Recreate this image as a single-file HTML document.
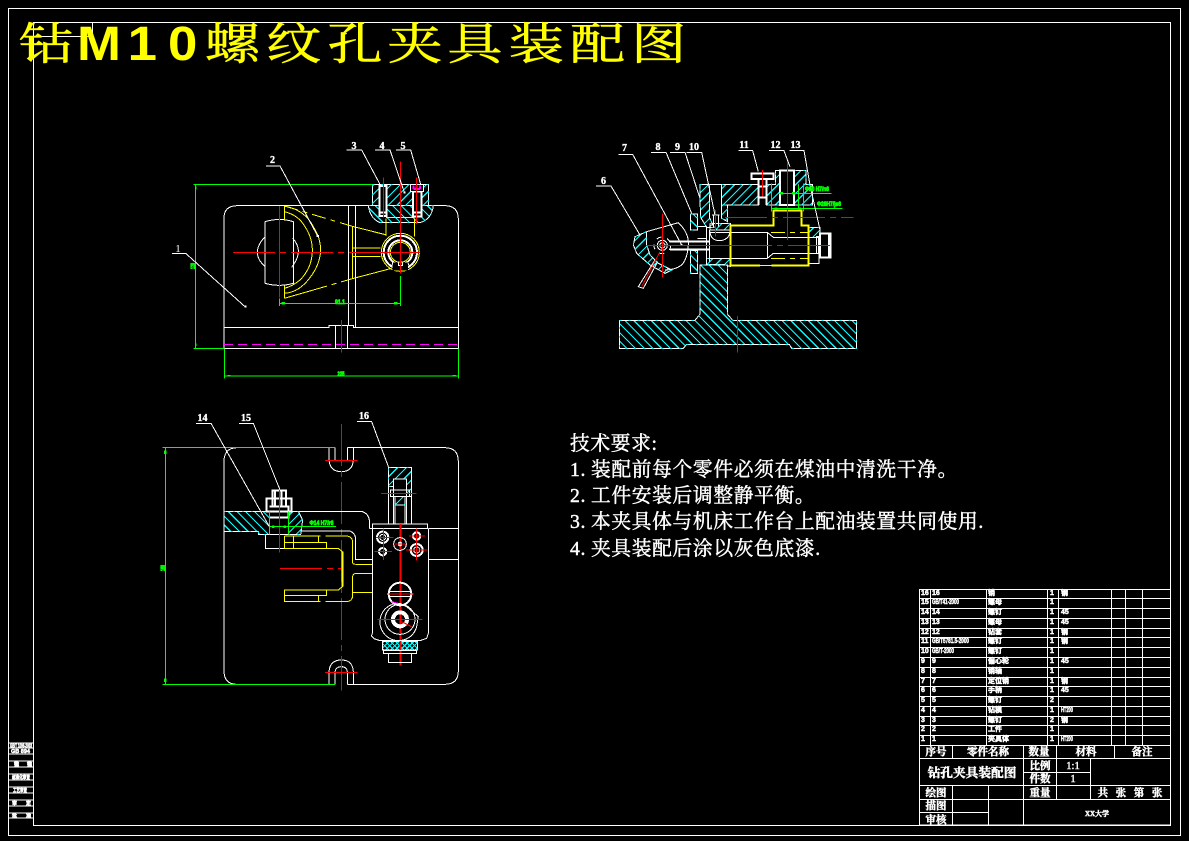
<!DOCTYPE html>
<html><head><meta charset="utf-8"><style>
html,body{margin:0;padding:0;background:#000;width:1189px;height:841px;overflow:hidden}
svg{display:block}
svg *{vector-effect:non-scaling-stroke}
.w{fill:none;stroke:#fff;stroke-width:1}
.b{fill:none;stroke:#fff;stroke-width:2}
.y{fill:none;stroke:#ff0;stroke-width:1}
.y2{fill:none;stroke:#ff0;stroke-width:2}
.r{fill:none;stroke:#f00;stroke-width:1}
.g{fill:none;stroke:#0f0;stroke-width:1}
.m{fill:none;stroke:#f0f;stroke-width:1}
.rd{fill:none;stroke:#f00;stroke-width:1;stroke-dasharray:42 5 6 5}
.yd{fill:none;stroke:#ff0;stroke-width:1;stroke-dasharray:14 5 5 5}
.cd{fill:none;stroke:#0ff;stroke-width:1;stroke-dasharray:2 7}
.hl{stroke:#0ff;stroke-dasharray:3.5 15;vector-effect:none}
.hc{stroke:#0ff;stroke-dasharray:3.5 7;vector-effect:none}
.gf{fill:#0f0;stroke:none}
text{font-family:"Liberation Sans","Noto Sans CJK SC",sans-serif}
.lb{fill:#fff;stroke:#fff;stroke-width:.35;font-size:10px;font-weight:bold;text-anchor:middle;font-family:"Liberation Serif","Noto Serif CJK SC",serif}
.gt{fill:#0f0;stroke:#0f0;stroke-width:.8;font-size:6px;font-weight:bold;text-anchor:middle}
.t{fill:#fff;stroke:#fff;stroke-width:.45;font-size:10.5px;font-weight:bold;text-anchor:middle;font-family:"Liberation Serif","Noto Serif CJK SC",serif}
.s{fill:#fff;stroke:#fff;stroke-width:.5;font-size:7px;font-weight:bold;font-family:"Liberation Sans","Noto Sans CJK SC",sans-serif}
.tech{fill:#fff;stroke:#fff;stroke-width:.45;font-size:19.7px;letter-spacing:.7px;font-family:"Liberation Serif","Noto Serif CJK SC",serif}
</style></head><body>
<svg width="1189" height="841" viewBox="0 0 1189 841" xmlns="http://www.w3.org/2000/svg" shape-rendering="crispEdges">
<rect width="1189" height="841" fill="#000"/>

<!-- frames -->
<rect x="8.5" y="8.5" width="1172" height="827" class="w"/>
<rect x="33.5" y="22.5" width="1137" height="803" class="w"/>
<rect x="33.5" y="22.5" width="59" height="14" class="w"/>

<!-- title -->
<g fill="#ff0" stroke="#ff0" stroke-width=".7">
<text transform="scale(1.25,1)" y="59" x="15 164 213 262 310 358 407 456 505" style="font-family:'Noto Serif CJK SC',serif;font-size:44px">钻螺纹孔夹具装配图</text>
<text transform="scale(1.1,1)" y="60" x="70 116 152.7" style="font-family:'Liberation Sans',sans-serif;font-size:48px;font-weight:bold;stroke-width:0">M10</text>
</g>

<!-- TOP-LEFT VIEW (coords in 3x crop space) -->
<g transform="translate(150,130) scale(.33333)">
<clipPath id="c1a"><path id="a1" d="M667 163H836V227H667Z"/></clipPath>
<clipPath id="c1b"><path id="b1" d="M655 227H850Q845 268 810 278H690Q660 265 655 227Z"/></clipPath>
<g clip-path="url(#c1a)"><line class="hl" x1="635" y1="220" x2="865" y2="220" stroke-width="230" transform="rotate(45 750 220)"/></g>
<g clip-path="url(#c1b)"><line class="hl" x1="635" y1="220" x2="865" y2="220" stroke-width="230" transform="rotate(-45 750 220)"/></g>
<path class="w" d="M222 265Q222 227 262 227H885Q925 227 925 268V655H222V265"/>
<use href="#a1" class="w"/><use href="#b1" class="w"/><use href="#a1" class="cd"/><use href="#b1" class="cd"/>
<path class="w" d="M224 592H537V586H610V592H925M595 227V586M616 227V592M556 586V655M592 586V655"/>
<path class="m" style="stroke-dasharray:9 5" d="M222 643H925"/>
<path class="r" d="M574 570V668"/>
<path class="w" d="M345 275V460M430 275V460M345 275Q388 262 430 275M345 460Q388 472 430 460M345 320Q322 345 322 367T345 410M428 325Q447 345 445 367T425 412"/>
<!-- yellow fork -->
<path class="y" d="M403 228V270M403 465V505M403 228Q465 240 490 290Q512 325 512 360Q510 410 470 455Q440 488 403 490M403 245Q445 255 465 290Q488 325 487 365Q485 415 450 450Q425 470 403 475"/>
<path class="yd" d="M403 228L607 289"/>
<path class="y" d="M607 289L710 315M403 505L490 480"/>
<path class="yd" d="M490 480L607 446"/>
<path class="y" d="M607 289V446M607 354H692M607 380H692M708 265V318M794 265V320M708 262H794M607 446L725 415"/>
<circle cx="751" cy="367" r="57" class="y"/>
<circle cx="751" cy="367" r="50" class="b"/>
<circle cx="751" cy="367" r="36" class="b"/>
<circle cx="751" cy="367" r="30" class="y"/>
<rect x="728" y="398" width="46" height="24" style="fill:#000"/>
<path class="w" d="M728 398L725 412M774 400L780 412M745 398V406H757V398"/>
<rect x="688" y="168" width="22" height="90" class="b" style="fill:#000"/>
<rect x="789" y="185" width="26" height="75" class="b" style="fill:#000"/>
<path class="b" d="M688 248H710M789 248H815"/>
<rect x="781" y="163" width="39" height="22" class="w" style="fill:#000"/>
<path class="m" style="stroke-width:2" d="M790 177V166M800 177V166M810 177V166M790 177H810"/>
<path class="r" d="M751 95V430M700 143V262M800 143V282"/>
<path class="rd" d="M249 367H700"/>
<path class="r" d="M700 367H810M388 228V502"/>
<!-- dims -->
<path class="g" d="M130 163H667M130 655H222M137 163V655M751 438V528M388 505V528M388 520H751M224 655V745M925 655V745M224 738H925"/>
<rect x="395" y="516" width="10" height="8" class="gf"/><rect x="732" y="516" width="10" height="8" class="gf"/>
<rect x="232" y="735" width="10" height="4" class="gf"/><rect x="908" y="735" width="10" height="4" class="gf"/>
<rect x="135" y="170" width="4" height="8" class="gf"/><rect x="135" y="640" width="4" height="8" class="gf"/>
<!-- leaders -->
<path class="w" d="M66 370H107L285 530M348 108H390L503 318M590 60H635L690 163M675 60H720L763 187M738 60H782L812 163"/>
<rect x="283" y="527" width="7" height="6" fill="#fff"/><rect x="500" y="315" width="7" height="6" fill="#fff"/><rect x="760" y="185" width="7" height="6" fill="#fff"/>
</g>
<text class="lb" x="178" y="252" style="font-size:11px;font-weight:normal;stroke-width:0">1</text>
<text class="lb" x="272.5" y="163">2</text><text class="lb" x="354" y="149">3</text><text class="lb" x="382" y="149">4</text><text class="lb" x="403" y="149">5</text>
<text class="gt" x="341" y="376" textLength="7" lengthAdjust="spacingAndGlyphs">225</text><text class="gt" x="340" y="304" textLength="10" lengthAdjust="spacingAndGlyphs">91.1</text>
<text class="gt" transform="translate(195,266) rotate(-90)" textLength="6" lengthAdjust="spacingAndGlyphs">120</text>

<!-- TOP-RIGHT VIEW -->
<g transform="translate(590,130) scale(.33333)">
<clipPath id="c2a"><path id="a2" d="M330 163H358V262L372 292H350L332 262V240L330 225ZM395 163H505V225H395ZM395 225H413V275L395 265ZM350 385H422V410L400 403H350ZM360 280H422V300H360ZM130 345L135 320L170 305V345L180 375L205 400L245 420L225 430L180 405L140 370ZM530 163H556V122H570V225H530ZM612 122H648V163H668V225H612ZM656 292H690V320H680V322H656Z"/></clipPath>
<clipPath id="c2b"><path id="b2" d="M88 571H315L330 552V405H412V552L428 571H800V655H605L598 643H290L280 655H88ZM302 252H322V300H302ZM302 362H322V431H302Z"/></clipPath>
<g clip-path="url(#c2a)"><line class="hl" x1="-1" y1="388" x2="889" y2="388" stroke-width="890" transform="rotate(45 444 388)"/></g>
<g clip-path="url(#c2b)"><line class="hl" x1="-1" y1="388" x2="889" y2="388" stroke-width="890" transform="rotate(-45 444 388)"/></g>
<use href="#a2" class="w"/><use href="#b2" class="w"/><use href="#a2" class="cd"/><use href="#b2" class="cd"/>
<path class="r" d="M442 558V668"/>
<path class="w" d="M358 163H395V262"/>
<path class="w" d="M360 300H420M360 305Q362 332 390 332Q415 330 420 307M322 290H350V325H322M322 358H350V395M350 300V395M358 300V395"/>
<path class="w" d="M370 255V290M385 255V290M366 255H388"/>
<!-- lever hub -->
<path class="w" d="M170 305L265 278Q298 310 295 345Q293 385 275 405Q255 420 225 420"/>
<circle cx="217" cy="346" r="15" class="w"/><circle cx="217" cy="346" r="8" class="w"/>
<circle cx="217" cy="346" r="25" class="w" style="stroke-dasharray:5 6"/>
<path class="w" d="M195 390L145 470L160 475L203 395"/>
<path class="r" d="M210 365L155 470"/>
<path class="b" d="M240 335H358M240 358H358"/>
<rect x="272" y="342" width="6" height="6" fill="#fff"/>
<!-- bore and yellow -->
<path class="w" d="M358 307H532L550 322H685V370H550L532 385H358ZM532 307V385M680 322V370"/>
<path class="y2" d="M422 287H550V241H634V287H656V407H545M510 407H422V287"/>
<path class="yd" d="M510 407H545"/>
<path class="yd" d="M543 307H656M543 385H656"/>
<path class="w" d="M656 322H687V400H656"/>
<path class="b" d="M690 310H722V382H690ZM717 310V382"/>
<!-- upper right -->
<path class="w" d="M625 163V225"/>
<rect x="570" y="122" width="42" height="103" class="b" style="fill:#000"/>
<path class="b" d="M485 130H550V147H485ZM505 147V225M530 147V225M505 170H530M505 203H530"/>
<!-- red -->
<path class="r" d="M517 120V200M592 95V330M217 250V442M377 240V320"/>
<path class="rd" d="M405 262H790"/>
<path class="r" d="M170 346H420"/>
<path class="rd" d="M420 346H735"/>
<!-- green -->
<path class="g" d="M545 160V245M640 160V245M625 165V235M562 190H725M545 235H758"/>
<rect x="570" y="186" width="9" height="8" class="gf"/><rect x="606" y="186" width="9" height="8" class="gf"/>
<rect x="553" y="232" width="10" height="8" class="gf"/><rect x="624" y="232" width="10" height="8" class="gf"/>
<!-- leaders -->
<path class="w" d="M18 168H63L150 315M85 73H128L275 345M183 67H228L305 250M240 67H285L330 205M290 67H335L375 255M445 62H488L505 125M537 62H582L600 110M598 62H642L660 165L690 300"/>
</g>
<text class="lb" x="603.5" y="184">6</text><text class="lb" x="624.5" y="151">7</text><text class="lb" x="658" y="150">8</text><text class="lb" x="677.5" y="150">9</text><text class="lb" x="694" y="150">10</text><text class="lb" x="744" y="148">11</text><text class="lb" x="775.5" y="148">12</text><text class="lb" x="795.5" y="148">13</text>
<text class="gt" x="817" y="191" textLength="24" lengthAdjust="spacingAndGlyphs">Φ20 H7/n6</text><text class="gt" x="829" y="206" textLength="24" lengthAdjust="spacingAndGlyphs">Φ28H7/js6</text>

<!-- BOTTOM-LEFT VIEW -->
<g transform="translate(150,400) scale(.33333)">
<clipPath id="c3a"><path id="a3" d="M415 334H445L458 360L452 404H415ZM715 203H785V290H770V237H730V260H715ZM735 290H765V315H735Z"/></clipPath>
<clipPath id="c3b"><path id="b3" d="M222 334H358V404H325V395H222Z"/></clipPath>
<clipPath id="c3c"><path id="c3" d="M697 725H803V750H697Z"/></clipPath>
<g clip-path="url(#c3a)"><line class="hl" x1="388" y1="303" x2="812" y2="303" stroke-width="424" transform="rotate(45 600 303)"/></g>
<g clip-path="url(#c3b)"><line class="hl" x1="218" y1="369" x2="362" y2="369" stroke-width="144" transform="rotate(-45 290 369)"/></g>
<g clip-path="url(#c3c)"><line class="hc" x1="695" y1="737" x2="805" y2="737" stroke-width="110" transform="rotate(45 750 737)"/><line class="hc" x1="695" y1="737" x2="805" y2="737" stroke-width="110" transform="rotate(-45 750 737)"/></g>
<use href="#a3" class="w"/><use href="#b3" class="w"/><use href="#c3" class="w"/><use href="#a3" class="cd"/><use href="#b3" class="cd"/>
<path class="w" d="M222 185Q222 143 262 143H537M592 143H885Q925 143 925 185V812Q925 853 885 853H592M537 853H260Q222 853 222 812V185"/>
<path class="w" d="M537 143V180Q540 215 574 215Q608 215 610 180V143M555 143V180M592 143V180"/>
<path class="w" d="M537 853V815Q540 780 574 780Q608 780 610 815V853M555 853V815Q558 800 574 800Q590 800 592 815V853"/>
<path class="rd" d="M574 72V872"/>
<path class="r" d="M525 181H623M525 817H623"/>
<!-- green -->
<path class="g" d="M37 143H555M37 853H555M46 143V853"/>
<rect x="42" y="152" width="8" height="10" class="gf"/><rect x="42" y="836" width="8" height="10" class="gf"/>
<path class="w" d="M358 352H415V404H358ZM445 334H635Q655 340 658 360V385M452 393H600Q617 400 617 420V478H667M346 404V445H402"/>
<path class="b" d="M368 272H408V320H368ZM350 295H425V335H350ZM358 320H415V352H358M375 272V320M395 272V320"/>
<path class="r" d="M388 258V458"/>
<path class="g" d="M358 335V404M415 335V404M358 380H558"/>
<rect x="366" y="376" width="8" height="8" class="gf"/><rect x="400" y="376" width="8" height="8" class="gf"/>
<!-- yellow fork -->
<path class="y" d="M403 408V445H565L577 455V560L565 570H403V605H470M403 427H530V445M430 408V445M505 408V427M403 587H530V570M505 587V605M530 605H590Q608 603 608 585V530Q608 520 620 520H667M608 577H667M530 408H590Q608 410 608 428V488Q608 493 620 493H667M403 408H470"/>
<path class="y2" d="M577 455V560"/>
<path class="yd" d="M470 408H530M470 605H530"/>
<path class="rd" d="M390 505H575"/>
<!-- clamp block -->
<path class="w" d="M667 372H833V385H667ZM658 385H667M835 385H925M835 478H925"/>
<path class="w" d="M667 385V700L664 708L672 716L690 722H810L830 715L835 700V385"/>
<path class="w" d="M715 240V372M730 237V372M770 237V372M785 203V372M735 315V372M765 315V372M730 237H770V290H730ZM722 270H778V290H722Z"/>
<path class="r" d="M693 280H800"/>
<path class="r" d="M751 372V797" style="stroke-width:2"/>
<!-- circles -->
<circle cx="698" cy="412" r="17" class="b"/><circle cx="698" cy="412" r="9" class="w"/>
<circle cx="750" cy="432" r="19" class="w"/><circle cx="750" cy="432" r="7" fill="#fff"/>
<circle cx="800" cy="408" r="11" class="b"/>
<circle cx="698" cy="455" r="11" class="b"/>
<circle cx="800" cy="450" r="18" class="b"/><circle cx="800" cy="450" r="9" class="w"/>
<circle cx="750" cy="582" r="34" class="b"/>
<path class="w" d="M716 575H784M716 590H784"/>
<path class="w" d="M750 610A56 56 0 1 0 800 680L805 650L770 620Z"/>
<circle cx="750" cy="658" r="45" class="w"/>
<circle cx="750" cy="658" r="21" class="b" style="stroke-width:4"/>
<path class="m" d="M725 605L745 610"/>
<path class="r" d="M678 412H730M674 455H726M730 432H770M777 408H825M768 450H832M700 385V480M800 385V482M682 658H818M715 582H792M755 665L785 680"/>
<path class="w" d="M700 752H800V760H700ZM715 760V787H785V760"/>
<!-- leaders -->
<path class="w" d="M138 70H183L358 380M267 70H310L390 270M621 65H665L717 205"/>
</g>
<text class="lb" x="202.5" y="421">14</text><text class="lb" x="246" y="421">15</text><text class="lb" x="364" y="419">16</text>
<text class="gt" x="321.5" y="525" textLength="24" lengthAdjust="spacingAndGlyphs">Φ14 H7/r6</text>
<text class="gt" transform="translate(165,568) rotate(-90)" textLength="6" lengthAdjust="spacingAndGlyphs">160</text>

<!-- TECH REQUIREMENTS -->
<text class="tech" y="450" x="570">技术要求:</text>
<text class="tech" y="476"><tspan x="570">1.</tspan><tspan x="591">装配前每个零件必须在煤油中清洗干净。</tspan></text>
<text class="tech" y="502"><tspan x="570">2.</tspan><tspan x="591">工件安装后调整静平衡。</tspan></text>
<text class="tech" y="528"><tspan x="570">3.</tspan><tspan x="591">本夹具体与机床工作台上配油装置共同使用.</tspan></text>
<text class="tech" y="555"><tspan x="570">4.</tspan><tspan x="591">夹具装配后涂以灰色底漆.</tspan></text>

<!-- TITLE BLOCK -->
<g transform="translate(910,585) scale(.33333)">
<path class="w" d="M28 13H782V720H28ZM28 41H782M28 70H782M28 100H782M28 130H782M28 158H782M28 188H782M28 217H782M28 247H782M28 277H782M28 305H782M28 335H782M28 364H782M28 394H782M28 422H782M28 452H782M28 482H782M28 520H782M28 602H782M28 643H782M28 683H236M340 562H541"/>
<path class="w" d="M62 13V482M230 13V482M412 13V482M445 13V482M605 13V482M647 13V482M698 13V482"/>
<path class="w" d="M128 482V520M340 482V720M440 482V643M613 482V520M541 520V643M128 602V720M236 602V720"/>
</g>
<g class="s">
<text x="921" y="595">16</text><text x="932" y="595">16</text><text x="988" y="595">销</text><text x="1050" y="595">1</text><text x="1061" y="595">钢</text>
<text x="921" y="604">15</text><text x="932" y="604" textLength="27" lengthAdjust="spacingAndGlyphs">GB/T41-2000</text><text x="988" y="604">螺母</text><text x="1050" y="604">1</text>
<text x="921" y="614">14</text><text x="932" y="614">14</text><text x="988" y="614">螺钉</text><text x="1050" y="614">1</text><text x="1061" y="614">45</text>
<text x="921" y="624">13</text><text x="932" y="624">13</text><text x="988" y="624">螺母</text><text x="1050" y="624">1</text><text x="1061" y="624">45</text>
<text x="921" y="634">12</text><text x="932" y="634">12</text><text x="988" y="634">钻套</text><text x="1050" y="634">1</text><text x="1061" y="634">钢</text>
<text x="921" y="643">11</text><text x="932" y="643" textLength="37" lengthAdjust="spacingAndGlyphs">GB/T5781.5-2000</text><text x="988" y="643">螺钉</text><text x="1050" y="643">1</text><text x="1061" y="643">钢</text>
<text x="921" y="653">10</text><text x="932" y="653" textLength="22" lengthAdjust="spacingAndGlyphs">GB/T-2000</text><text x="988" y="653">螺钉</text><text x="1050" y="653">1</text>
<text x="921" y="663">9</text><text x="932" y="663">9</text><text x="988" y="663">偏心轮</text><text x="1050" y="663">1</text><text x="1061" y="663">45</text>
<text x="921" y="673">8</text><text x="932" y="673">8</text><text x="988" y="673">销轴</text><text x="1050" y="673">1</text>
<text x="921" y="683">7</text><text x="932" y="683">7</text><text x="988" y="683">定位销</text><text x="1050" y="683">1</text><text x="1061" y="683">钢</text>
<text x="921" y="692">6</text><text x="932" y="692">6</text><text x="988" y="692">手柄</text><text x="1050" y="692">1</text><text x="1061" y="692">45</text>
<text x="921" y="702">5</text><text x="932" y="702">5</text><text x="988" y="702">螺钉</text><text x="1050" y="702">2</text>
<text x="921" y="712">4</text><text x="932" y="712">4</text><text x="988" y="712">钻模</text><text x="1050" y="712">1</text><text x="1061" y="712" textLength="12" lengthAdjust="spacingAndGlyphs">HT200</text>
<text x="921" y="722">3</text><text x="932" y="722">3</text><text x="988" y="722">螺钉</text><text x="1050" y="722">2</text><text x="1061" y="722">钢</text>
<text x="921" y="731">2</text><text x="932" y="731">2</text><text x="988" y="731">工件</text><text x="1050" y="731">1</text>
<text x="921" y="741">1</text><text x="932" y="741">1</text><text x="988" y="741">夹具体</text><text x="1050" y="741">1</text><text x="1061" y="741" textLength="12" lengthAdjust="spacingAndGlyphs">HT200</text>
</g>
<text class="t" x="936" y="755">序号</text><text class="t" x="988" y="755">零件名称</text><text class="t" x="1039" y="755">数量</text><text class="t" x="1086" y="755">材料</text><text class="t" x="1142" y="755">备注</text>
<text class="t" x="972" y="777" style="font-size:12.7px">钻孔夹具装配图</text>
<text class="t" x="1040" y="769">比例</text><text class="t" x="1073" y="769" style="font-weight:normal">1:1</text>
<text class="t" x="1040" y="782">件数</text><text class="t" x="1073" y="782" style="font-weight:normal">1</text>
<text class="t" x="936" y="796">绘图</text><text class="t" x="936" y="809">描图</text><text class="t" x="936" y="823">审核</text>
<text class="t" x="1040" y="796">重量</text><text class="t" x="1130" y="796" style="word-spacing:5px">共 张 第 张</text>
<text class="t" x="1097" y="816" style="font-size:7px;word-spacing:1px">XX大学</text>

<!-- LEFT STRIP -->
<path class="w" d="M8 743H33M8 748H33M8 754H33M8 761H33M8 767H33M8 774H33M8 780H33M8 787H33M8 793H33M8 800H33M8 806H33M8 813H33M8 818H33"/>
<g class="s" style="font-size:5px">
<text x="10" y="747.5" textLength="22" lengthAdjust="spacingAndGlyphs">GB/T 1096-2003</text><text x="11" y="753" textLength="19" lengthAdjust="spacingAndGlyphs">GB 894</text>
<text x="14" y="766" textLength="18" lengthAdjust="spacing">键键</text><text x="12" y="779" textLength="18" lengthAdjust="spacingAndGlyphs">标准化审查</text>
<text x="13" y="792" textLength="14" lengthAdjust="spacingAndGlyphs">工艺审查</text><text x="12" y="805" textLength="19" lengthAdjust="spacing">审定</text><text x="12" y="817.5" textLength="19" lengthAdjust="spacing">批准</text>
</g>
</svg>
</body></html>
